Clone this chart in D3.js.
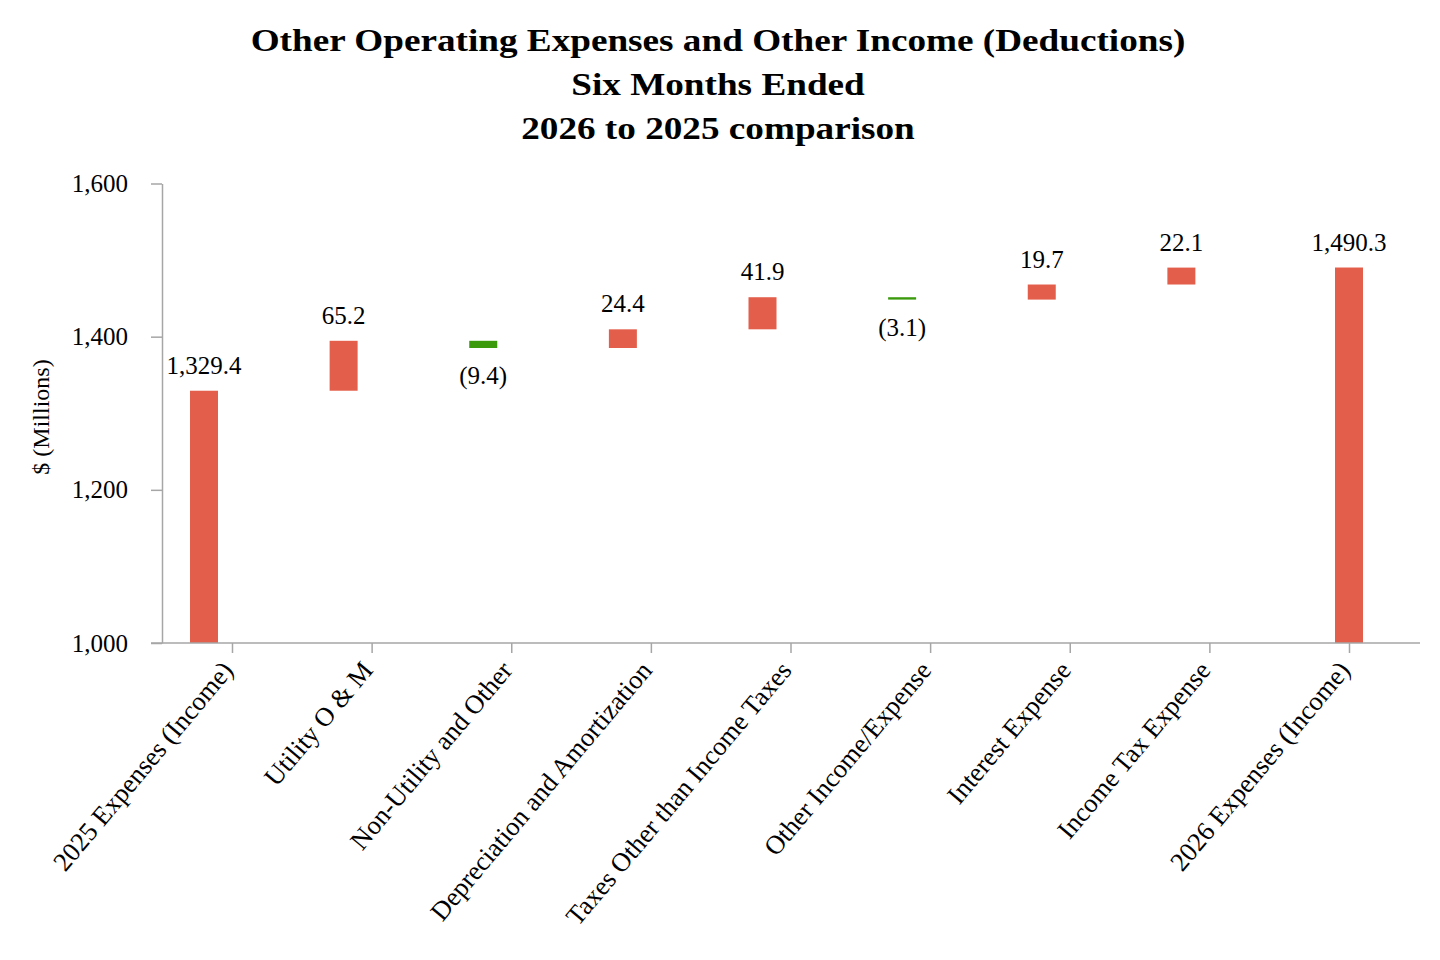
<!DOCTYPE html>
<html>
<head>
<meta charset="utf-8">
<script src="https://cdn.jsdelivr.net/npm/d3@7"></script>
<style>
  body { margin: 0; background: #fff; }
  svg text { font-family: "Liberation Serif", "Times New Roman", serif; fill: #000; }
</style>
</head>
<body>
<div id="chart"></div>
<script>
// chart data
const titleLines = [
    "Other Operating Expenses and Other Income (Deductions)",
    "Six Months Ended",
    "2026 to 2025 comparison"
];
const categories = [
    "2025 Expenses (Income)",
    "Utility O & M",
    "Non-Utility and Other",
    "Depreciation and Amortization",
    "Taxes Other than Income Taxes",
    "Other Income/Expense",
    "Interest Expense",
    "Income Tax Expense",
    "2026 Expenses (Income)"
];
const values = [1329.4, 65.2, -9.4, 24.4, 41.9, -3.1, 19.7, 22.1, 1490.3];
const kinds = ["start", "delta", "delta", "delta", "delta", "delta", "delta", "delta", "end"];
const yTicks = [1000, 1200, 1400, 1600];
const yLabel = "$ (Millions)";

const width = 1440, height = 960;
const red = "#E45F4B", green = "#3A9A0C", axisColor = "#A6A6A6";
const barW = 28;
// bar offset from its category tick (the original chart has the first bars shifted left)
const barOffset = { start: -28, delta: -28, end: 0 };

const svg = d3.select("#chart").append("svg")
    .attr("width", width)
    .attr("height", height);

// titles (slightly wide lettering like the original)
svg.selectAll(".title")
    .data(titleLines)
    .join("text")
    .attr("class", "title")
    .attr("transform", (d, i) => `translate(718,${51 + i * 44}) scale(1.2,1)`)
    .attr("text-anchor", "middle")
    .style("font-size", "31px")
    .style("font-weight", "bold")
    .text(d => d);

const plotLeft = 162, plotRight = 1420, plotTop = 183.5, plotBottom = 643;

const x = d3.scalePoint()
    .domain(categories)
    .range([232, 1349]);

const y = d3.scaleLinear()
    .domain([1000, 1600])
    .range([plotBottom, plotTop]);

// build waterfall segments
let running = 0;
const bars = categories.map((c, i) => {
    const v = values[i];
    const k = kinds[i];
    let y0, y1;
    if (k === "delta") {
        y0 = running;
        y1 = running + v;
        running = y1;
    } else {
        y0 = 1000;
        y1 = v;
        running = v;
    }
    return { cat: c, value: v, kind: k, y0, y1 };
});

const fmt = d3.format(",.1f");
const labelText = d => d.value < 0 ? `(${fmt(-d.value)})` : fmt(d.value);

svg.append("g")
    .selectAll("rect")
    .data(bars)
    .join("rect")
    .attr("x", d => x(d.cat) + barOffset[d.kind] - barW / 2)
    .attr("y", d => y(Math.max(d.y0, d.y1)))
    .attr("width", barW)
    .attr("height", d => Math.max(1.5, Math.abs(y(d.y0) - y(d.y1))))
    .attr("fill", d => d.value < 0 ? green : red);

svg.append("g")
    .selectAll("text")
    .data(bars)
    .join("text")
    .attr("x", d => x(d.cat) + barOffset[d.kind])
    .attr("y", d => d.value < 0 ? y(Math.min(d.y0, d.y1)) + 36 : y(Math.max(d.y0, d.y1)) - 17)
    .attr("text-anchor", "middle")
    .style("font-size", "25px")
    .text(labelText);

// y axis
const yAxis = svg.append("g")
    .attr("transform", `translate(${plotLeft},0)`)
    .call(d3.axisLeft(y)
        .tickValues(yTicks)
        .tickFormat(d3.format(","))
        .tickSize(11)
        .tickSizeOuter(0)
        .tickPadding(23));
yAxis.select(".domain").attr("stroke", axisColor).attr("stroke-width", 1.5);
yAxis.selectAll(".tick line").attr("stroke", axisColor).attr("stroke-width", 1.5);
yAxis.selectAll(".tick text")
    .style("font-size", "25px")
    .style("font-family", "'Liberation Serif', serif");

svg.append("text")
    .attr("transform", `translate(49,417) rotate(-90)`)
    .attr("text-anchor", "middle")
    .style("font-size", "24px")
    .text(yLabel);

// x axis
const xAxis = svg.append("g")
    .attr("transform", `translate(0,${plotBottom})`)
    .call(d3.axisBottom(x).tickSize(10).tickSizeOuter(0));
xAxis.select(".domain").remove();
xAxis.append("line")
    .attr("x1", 151)
    .attr("x2", plotRight)
    .attr("stroke", axisColor)
    .attr("stroke-width", 1.5);
xAxis.selectAll(".tick line").attr("stroke", axisColor).attr("stroke-width", 1.5);
xAxis.selectAll(".tick text")
    .attr("text-anchor", "end")
    .attr("transform", "translate(2,28) rotate(-50)")
    .attr("dy", "0")
    .attr("y", 0)
    .style("font-size", "26.5px")
    .style("font-family", "'Liberation Serif', serif");
</script>
</body>
</html>
